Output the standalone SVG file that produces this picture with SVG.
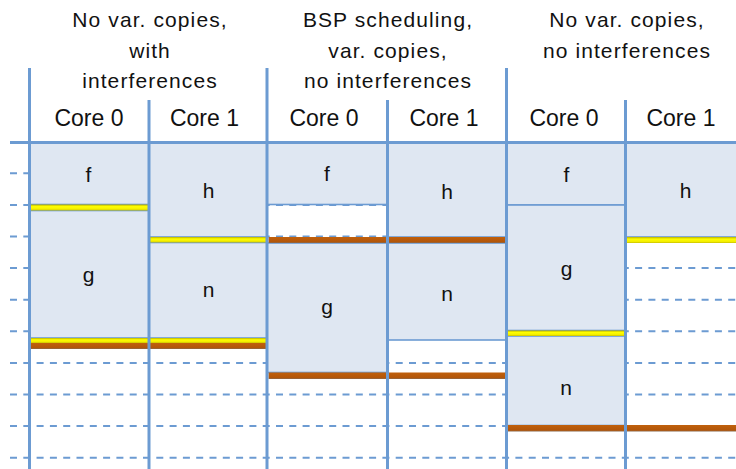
<svg xmlns="http://www.w3.org/2000/svg" width="736" height="469" viewBox="0 0 736 469">
<defs>
<linearGradient id="yel" x1="0" y1="0" x2="0" y2="1">
<stop offset="0" stop-color="#b9b100"/>
<stop offset="0.35" stop-color="#ffff00"/>
<stop offset="0.75" stop-color="#f4ee00"/>
<stop offset="1" stop-color="#c8c000"/>
</linearGradient>
<linearGradient id="org" x1="0" y1="0" x2="0" y2="1">
<stop offset="0" stop-color="#c0600c"/>
<stop offset="0.8" stop-color="#b2560a"/>
<stop offset="1" stop-color="#8a6a50"/>
</linearGradient>
</defs>
<style>
.grid{stroke:#6c9bd2;stroke-width:2;stroke-dasharray:7 6.3;fill:none}
.box{fill:#dfe7f2;stroke:#6c9bd2;stroke-width:1.6}
.ybar{fill:url(#yel)}
.obar{fill:url(#org)}
.vl{stroke:#6c9bd2;stroke-width:3;fill:none}
.hd{font-family:"Liberation Sans",Arial,sans-serif;font-size:21px;letter-spacing:1.1px;fill:#111;text-anchor:middle}
.core{font-family:"Liberation Sans",Arial,sans-serif;font-size:23px;fill:#111;text-anchor:middle}
.lbl{font-family:"Liberation Sans",Arial,sans-serif;font-size:21px;fill:#111;text-anchor:middle}
</style>
<rect width="736" height="469" fill="#ffffff"/>
<g id="grid">
<line class="grid" x1="10" y1="173.3" x2="736" y2="173.3"/>
<line class="grid" x1="10" y1="204.9" x2="736" y2="204.9"/>
<line class="grid" x1="10" y1="236.5" x2="736" y2="236.5"/>
<line class="grid" x1="10" y1="268.1" x2="736" y2="268.1"/>
<line class="grid" x1="10" y1="299.7" x2="736" y2="299.7"/>
<line class="grid" x1="10" y1="331.3" x2="736" y2="331.3"/>
<line class="grid" x1="10" y1="362.9" x2="736" y2="362.9"/>
<line class="grid" x1="10" y1="394.5" x2="736" y2="394.5"/>
<line class="grid" x1="10" y1="426.1" x2="736" y2="426.1"/>
<line class="grid" x1="10" y1="457.7" x2="736" y2="457.7"/>
</g>
<g id="c1-f"><rect class="box" x="29.5" y="142" width="119.5" height="62.5"/><text class="lbl" x="88.5" y="182">f</text></g>
<g id="c1-g"><rect class="box" x="29.5" y="210.5" width="119.5" height="127.5"/><text class="lbl" x="88.5" y="282">g</text></g>
<g id="c2-h"><rect class="box" x="149" y="142" width="118" height="95"/><text class="lbl" x="208.5" y="198">h</text></g>
<g id="c2-n"><rect class="box" x="149" y="242.5" width="118" height="95.5"/><text class="lbl" x="208.5" y="297">n</text></g>
<g id="c3-f"><rect class="box" x="267" y="142" width="120.5" height="62.5"/><text class="lbl" x="327" y="181">f</text></g>
<g id="c3-g"><rect class="box" x="267" y="243" width="120.5" height="129.5"/><text class="lbl" x="327" y="314">g</text></g>
<g id="c4-h"><rect class="box" x="387.5" y="142" width="119" height="95"/><text class="lbl" x="447" y="199">h</text></g>
<g id="c4-n"><rect class="box" x="387.5" y="243" width="119" height="97"/><text class="lbl" x="447" y="301">n</text></g>
<g id="c5-f"><rect class="box" x="506.5" y="142" width="119" height="63"/><text class="lbl" x="566.5" y="182">f</text></g>
<g id="c5-g"><rect class="box" x="506.5" y="205" width="119" height="125.5"/><text class="lbl" x="566.5" y="276">g</text></g>
<g id="c5-n"><rect class="box" x="506.5" y="336" width="119" height="89.5"/><text class="lbl" x="566" y="395">n</text></g>
<g id="c6-h"><rect class="box" x="625.5" y="142" width="112" height="95"/><text class="lbl" x="685.5" y="198">h</text></g>
<g id="bars">
<rect class="ybar" x="30" y="204.5" width="119" height="6"/>
<rect class="ybar" x="150" y="237" width="117" height="5.5"/>
<rect class="ybar" x="30" y="338" width="118.5" height="5"/>
<rect class="ybar" x="149.5" y="338" width="117.5" height="5"/>
<rect class="obar" x="30" y="343" width="237" height="6"/>
<rect class="obar" x="268.5" y="237" width="238" height="6"/>
<rect class="obar" x="268.5" y="372.5" width="238" height="6.5"/>
<rect class="ybar" x="507.5" y="330.5" width="118" height="5.5"/>
<rect class="ybar" x="627" y="237" width="109" height="6"/>
<rect class="obar" x="507.5" y="425" width="228.5" height="6.5"/>
</g>
<g id="axes">
<line class="vl" x1="10" y1="142.5" x2="736" y2="142.5"/>
<line class="vl" x1="29.5" y1="68" x2="29.5" y2="469"/>
<line class="vl" x1="149" y1="100" x2="149" y2="469"/>
<line class="vl" x1="267" y1="68" x2="267" y2="469"/>
<line class="vl" x1="387.5" y1="100" x2="387.5" y2="469"/>
<line class="vl" x1="506.5" y1="68" x2="506.5" y2="469"/>
<line class="vl" x1="625.5" y1="100" x2="625.5" y2="469"/>
</g>
<g id="headers">
<text class="hd" x="150" y="27">No var. copies,</text>
<text class="hd" x="150" y="57.5">with</text>
<text class="hd" x="150" y="88">interferences</text>
<text class="hd" x="388" y="27">BSP scheduling,</text>
<text class="hd" x="388" y="57.5">var. copies,</text>
<text class="hd" x="388" y="88">no interferences</text>
<text class="hd" x="627" y="27">No var. copies,</text>
<text class="hd" x="627" y="57.5">no interferences</text>
<text class="core" x="89" y="126">Core 0</text>
<text class="core" x="204.5" y="126">Core 1</text>
<text class="core" x="324" y="126">Core 0</text>
<text class="core" x="444" y="126">Core 1</text>
<text class="core" x="564" y="126">Core 0</text>
<text class="core" x="681" y="126">Core 1</text>
</g>
</svg>
